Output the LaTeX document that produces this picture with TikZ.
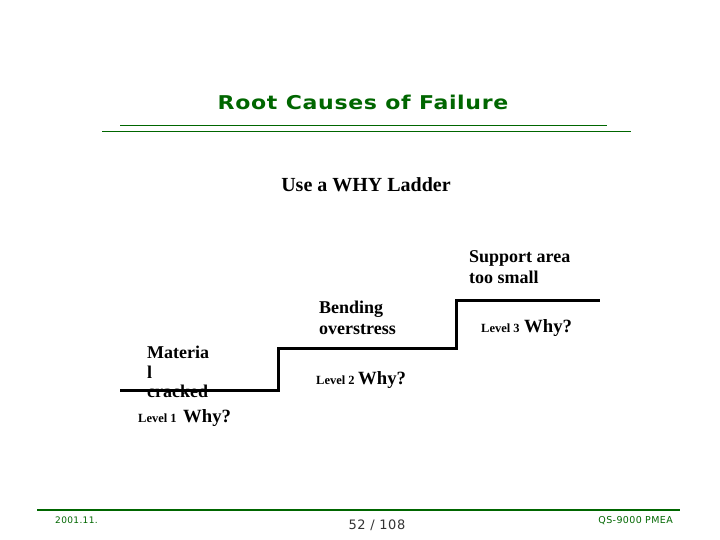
\documentclass[tikz,border=0pt]{standalone}
\usepackage{fontspec}
\setmainfont{Liberation Serif}
\newfontfamily\titlefont[LetterSpace=3]{DejaVu Sans}
\newfontfamily\footfont[LetterSpace=4]{DejaVu Sans}
\definecolor{dkgreen}{RGB}{0,102,0}
\begin{document}
\begin{tikzpicture}[x=1pt,y=-1pt,
  ladder/.style={line width=3pt,line join=miter},
  rule/.style={draw=dkgreen,line width=1pt},
  cause/.style={font=\fontsize{18}{21}\selectfont\bfseries,anchor=north west,align=left,inner sep=0pt},
  lvl/.style={font=\fontsize{12.5}{14}\selectfont\bfseries,anchor=base west,inner sep=0pt},
  why/.style={font=\fontsize{18.7}{20}\selectfont\bfseries,anchor=base west,inner sep=0pt},
  foot/.style={font=\footfont\fontsize{9.5}{11}\selectfont,text=dkgreen,inner sep=0pt}]
\useasboundingbox (0,0) rectangle (720,540);
\node[font=\titlefont\fontsize{19}{22}\selectfont\bfseries,text=dkgreen,inner sep=0pt,anchor=base,xscale=1.16] (title) at (363,110) {Root Causes of Failure};
\draw[rule] (120,126) -- (607,126);
\draw[rule] (102,132) -- (631,132);
\node[font=\fontsize{20}{24}\selectfont\bfseries,inner sep=0pt,anchor=base] (sub) at (366,192) {Use a WHY Ladder};
% ladder
\coordinate (l0) at (120,390);
\coordinate (l1) at (278,390);
\coordinate (l2) at (278,348);
\coordinate (l3) at (456,348);
\coordinate (l4) at (456,300);
\coordinate (l5) at (600,300);
\draw[ladder] (l0) -- (l1) -- (l2) -- (l3) -- (l4) -- (l5);
% causes
\node[cause,font=\fontsize{18}{19.5}\selectfont\bfseries] (c1) at (147,346) {Materia\\l\\cracked};
\node[cause] (c2) at (319,300.5) {Bending\\overstress};
\node[cause] (c3) at (469,250) {Support area\\too small};
% levels
\node[lvl] (lv1) at (138,422) {Level 1};
\node[why] (w1) at (183,422) {Why?};
\node[lvl] (lv2) at (316,384) {Level 2};
\node[why] (w2) at (358,384) {Why?};
\node[lvl] (lv3) at (481,332) {Level 3};
\node[why] (w3) at (524,332) {Why?};
% footer
\draw[draw=dkgreen,line width=2pt] (37,510) -- (680,510);
\node[foot,anchor=base west,font=\footfont\fontsize{9}{11}\selectfont] (date) at (55,523) {2001.11.};
\node[foot,anchor=base east] (doc) at (673,523) {QS-9000 PMEA};
\node[font=\footfont\fontsize{13}{15}\selectfont,text=black!80,inner sep=0pt,anchor=base] (page) at (377,529) {52 / 108};
\end{tikzpicture}
\end{document}
